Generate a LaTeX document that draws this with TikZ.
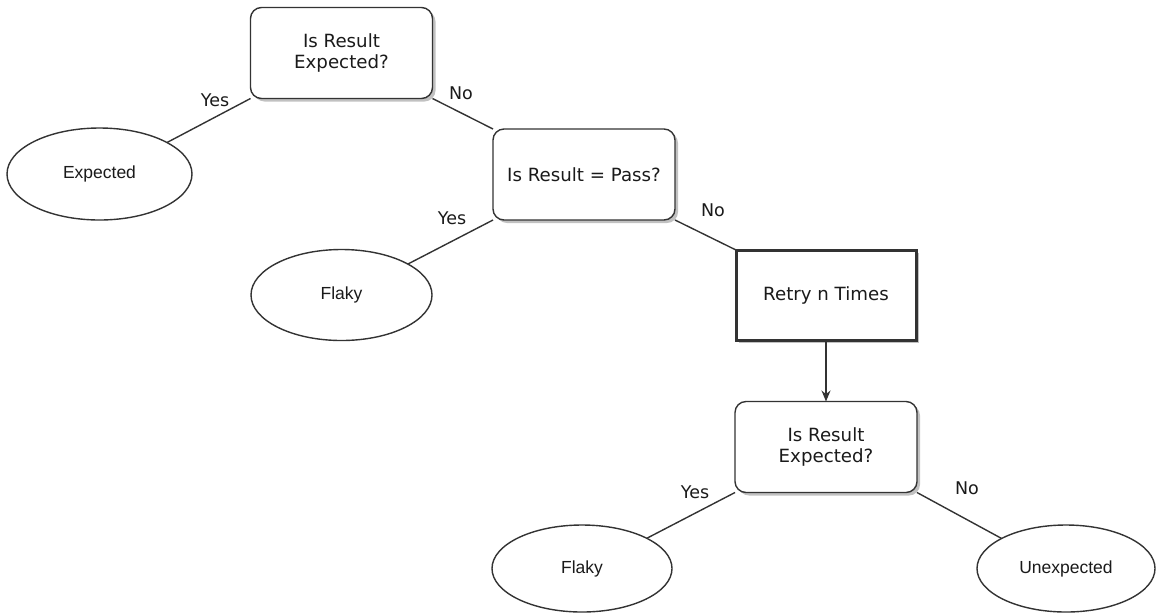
\documentclass[tikz,border=0pt]{standalone}
\usepackage{fontspec}
\setmainfont{DejaVu Sans}
\newfontfamily\ovalfont{Liberation Sans}
\usetikzlibrary{shapes.geometric,shadows,arrows.meta}

\definecolor{ink}{HTML}{333333}
\definecolor{txt}{HTML}{1A1A1A}

\tikzset{
  decision/.style={draw=ink, line width=1.4pt, rectangle, rounded corners=11pt,
    fill=white, minimum width=182pt, minimum height=91pt, inner sep=0pt, outer sep=0pt,
    align=center, text=txt, font=\fontsize{18.2}{21.5}\selectfont,
    drop shadow={shadow xshift=3pt, shadow yshift=-3pt, fill=black!30, opacity=0.8}},
  action/.style={draw=ink, line width=3pt, rectangle,
    fill=white, minimum width=180pt, minimum height=90pt, inner sep=0pt, outer sep=0pt,
    align=center, text=txt, font=\fontsize{18.2}{21.5}\selectfont,
    drop shadow={shadow xshift=3pt, shadow yshift=-3pt, fill=black!30, opacity=0.8}},
  outcome/.style={draw=ink, line width=1.4pt, ellipse, fill=white,
    inner sep=0pt, outer sep=0pt, text=txt, font=\ovalfont\fontsize{17.5}{21}\selectfont},
  branch/.style={draw=ink, line width=1.4pt},
  answer/.style={text=txt, font=\fontsize{17.5}{20}\selectfont, inner sep=0pt},
}

\begin{document}
\begin{tikzpicture}[x=1pt, y=-1pt]
\useasboundingbox (0,0) rectangle (1158,614);

% decision and action boxes
\node[decision] (b1) at (341.5,53)  {Is Result\\Expected?};
\node[decision] (b2) at (584,174.5) {Is Result = Pass?};
\node[action]   (b3) at (826,295)   {Retry n Times};
\node[decision] (b4) at (826,447)   {Is Result\\Expected?};

% outcomes
\node[outcome, minimum width=185pt, minimum height=92pt] (e1) at (99.5,174)  {Expected};
\node[outcome, minimum width=181pt, minimum height=91pt] (e2) at (341.5,295) {Flaky};
\node[outcome, minimum width=180pt, minimum height=87pt] (e3) at (582,568.5) {Flaky};
\node[outcome, minimum width=178pt, minimum height=87pt] (e4) at (1066,568.5) {Unexpected};

% branches
\draw[branch] (b1.south west) -- (e1.25);
\draw[branch] (b1.south east) -- (b2.north west);
\draw[branch] (b2.south west) -- (e2.25);
\draw[branch] (b2.south east) -- (b3.north west);
\draw[branch, -{Stealth[length=11pt,width=9pt]}] (b3.south) -- (b4.north);
\draw[branch] (b4.south west) -- (e3.25);
\draw[branch] (b4.south east) -- (e4.155);

% branch labels
\node[answer] (y1) at (215,100) {Yes};
\node[answer] (n1) at (461,93)  {No};
\node[answer] (y2) at (452,218) {Yes};
\node[answer] (n2) at (713,210) {No};
\node[answer] (y3) at (695,492) {Yes};
\node[answer] (n3) at (967,488) {No};
\end{tikzpicture}
\end{document}
